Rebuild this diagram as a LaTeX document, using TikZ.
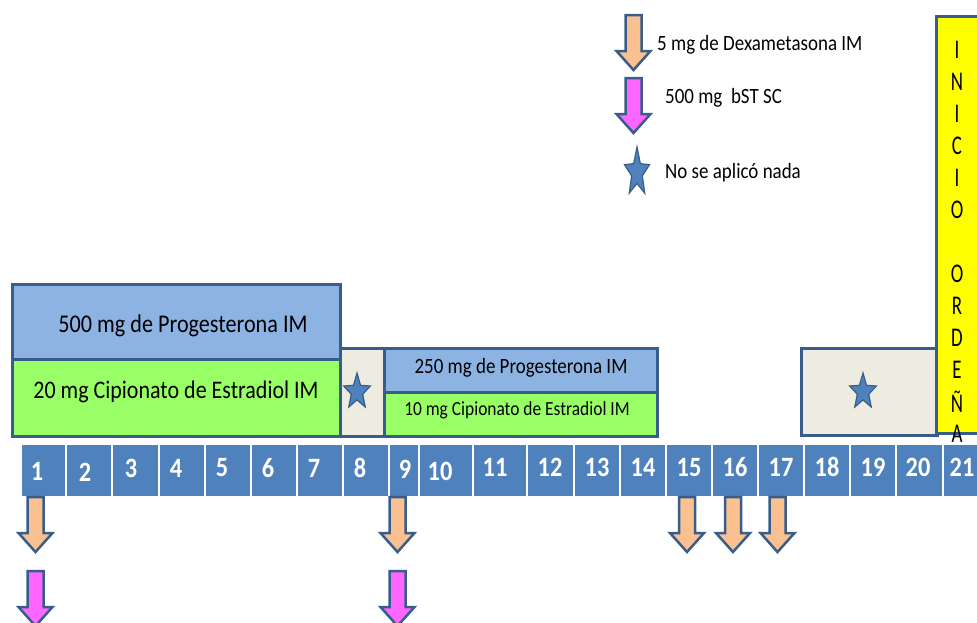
\documentclass[tikz,border=0pt]{standalone}
\usepackage{fontspec}
\setmainfont{Carlito}
\newfontfamily\cf[FakeStretch=0.87]{Carlito}
\newfontfamily\yf[FakeStretch=0.7]{Carlito}
\definecolor{bdr}{HTML}{385D8A}
\definecolor{lblue}{HTML}{8DB3E2}
\definecolor{lgreen}{HTML}{99FF66}
\definecolor{beige}{HTML}{EEECE1}
\definecolor{cellblue}{HTML}{4F81BD}
\definecolor{orng}{HTML}{FAC090}
\definecolor{pnk}{HTML}{FF66FF}
\definecolor{yel}{HTML}{FFFF00}
\begin{document}
\begin{tikzpicture}[x=1pt,y=-1pt,
  panel/.style={draw=bdr,line width=2.5pt,inner sep=0pt,anchor=north west},
  txt/.style={inner sep=0pt,text=black},
  lgd/.style={inner sep=0pt,text=black,anchor=west,font=\cf\fontsize{21.8}{22}\selectfont},
  daynum/.style={inner sep=0pt,text=white,font=\cf\fontsize{28}{28}\selectfont\bfseries},
  yl/.style={inner sep=0pt,text=black,font=\yf\fontsize{27}{27}\selectfont},
  pics/darrow/.style={code={\draw[draw=bdr,line width=2.5pt,line join=miter,fill=#1]
     (-8,0) -- (8,0) -- (8,36) -- (17,36) -- (0,55) -- (-17,36) -- (-8,36) -- cycle;}},
  pics/bstar/.style={code={\draw[draw=bdr,line width=1.2pt,fill=cellblue,line join=miter]
     (-90:14) -- (-54:6) -- (-18:14) -- (18:6) -- (54:14) -- (90:6) -- (126:14) -- (162:6) -- (198:14) -- (234:6) -- cycle;}}
]
\useasboundingbox (0,0) rectangle (977,622);
\clip (0,0) rectangle (977,622);

% legend
\pic at (633.5,15) {darrow=orng};
\pic at (633.5,78) {darrow=pnk};
\pic[xscale=0.94,yscale=1.82] at (637,172.5) {bstar};
\node[lgd] (l1) at (657,45) {5 mg de Dexametasona IM};
\node[lgd] (l2) at (665,98) {500 mg\ \ bST SC};
\node[lgd] (l3) at (665,173) {No se aplicó nada};

% left treatment block
\node[panel,fill=lblue,minimum width=328pt,minimum height=75pt] (p500) at (11,283) {};
\node[panel,fill=lgreen,minimum width=328pt,minimum height=77pt] (e20) at (11,358) {};
\node[panel,fill=beige,minimum width=44pt,minimum height=88pt] (s8) at (339,347) {};
\node[panel,fill=lblue,minimum width=273pt,minimum height=44pt] (p250) at (383,347) {};
\node[panel,fill=lgreen,minimum width=273pt,minimum height=44pt] (e10) at (383,391) {};
\node[txt,font=\cf\fontsize{25.5}{26}\selectfont] (t500) at (183,326) {500 mg de Progesterona IM};
\node[txt,font=\cf\fontsize{25.3}{26}\selectfont] (t20) at (176,392) {20 mg Cipionato de Estradiol IM};
\node[txt,font=\cf\fontsize{21.8}{22}\selectfont] (t250) at (521,368) {250 mg de Progesterona IM};
\node[txt,font=\cf\fontsize{20}{20}\selectfont] (t10) at (517,410) {10 mg Cipionato de Estradiol IM};
\pic[yscale=1.34] at (357,391.8) {bstar};

% right empty block
\node[panel,fill=beige,minimum width=136pt,minimum height=87pt] (s18) at (800,347) {};
\pic[yscale=1.34] at (863,391.8) {bstar};

% yellow box
\node[panel,fill=yel,minimum width=70pt,minimum height=417pt] (ord) at (935,15) {};
\foreach \ch [count=\k from 0] in {I,N,I,C,I,O,{},O,R,D,E,Ñ,A}
  \node[yl] (y\k) at (957,50+32*\k) {\ch};

% day strip
\foreach \l/\r/\x/\y [count=\i] in {22/65/37/471,67/111/85/472,113/158/131/468,160/204/176/468,
   206/250/222/468,252/296/268/468,298/342/314/468,344/388/360/468,390/418/405/469,
   420/472/440/471,474/526/495/467,528/573/550/467,575/619/597/467,621/665/643/467,
   667/711/689/467,713/757/735/467,759/803/781/467,805/849/827/467,851/895/873/467,
   897/942/918/467,944/990/962/467}
{
  \fill[cellblue] (\l,445) rectangle (\r,496);
  \node[daynum] (d\i) at (\x,\y) {\i};
}

% bottom arrows
\pic at (35.5,497) {darrow=orng};
\pic at (35.5,571) {darrow=pnk};
\pic at (397.5,497) {darrow=orng};
\pic at (397.5,571) {darrow=pnk};
\pic at (687,497) {darrow=orng};
\pic at (733,497) {darrow=orng};
\pic at (777.5,497) {darrow=orng};
\end{tikzpicture}
\end{document}
